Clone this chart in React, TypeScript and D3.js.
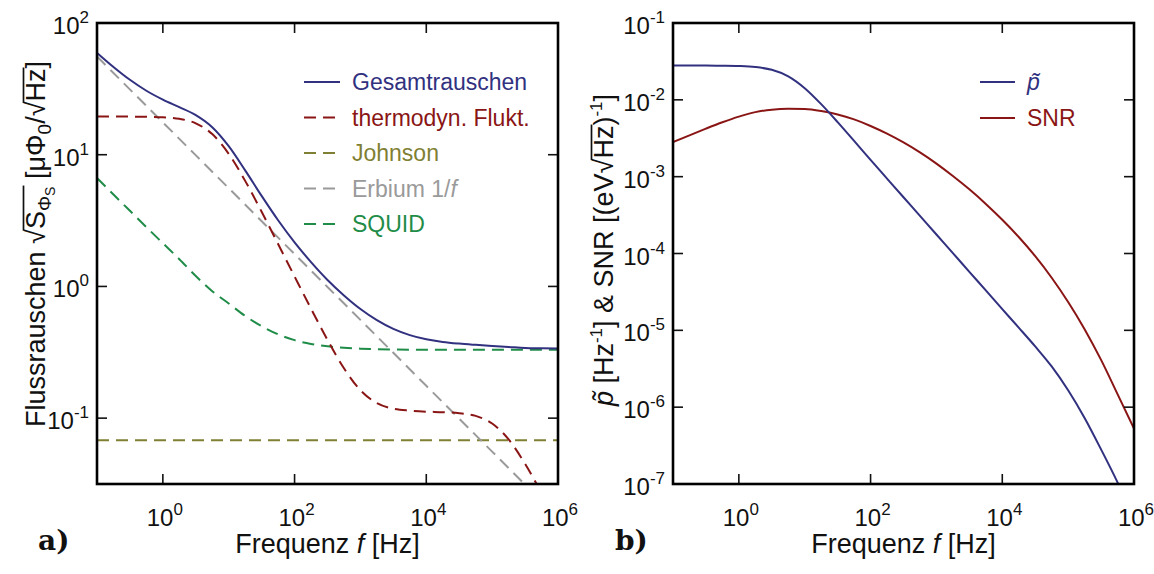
import React, { useLayoutEffect, useRef, useState } from 'react';
import * as d3 from 'd3';

// ---------- data ----------
const freq = [0.1, 0.1778, 0.3162, 0.5623, 1, 1.778, 3.162, 5.623, 10, 17.78, 31.62, 56.23, 100, 177.8, 316.2, 562.3,
  1e3, 1778, 3162, 5623, 1e4, 17780, 31620, 56230, 1e5, 177800, 316200, 562300, 1e6];
const gesamt = [59.4, 46.4, 37.05, 30.6, 26.2, 22.96, 19.98, 16.18, 11.61, 7.61, 4.87, 3.18, 2.16, 1.53, 1.12, 0.855,
  0.674, 0.555, 0.476, 0.427, 0.397, 0.379, 0.368, 0.36, 0.353, 0.347, 0.341, 0.339, 0.338];
const thermo = [19.5, 19.5, 19.47, 19.42, 19.24, 18.72, 17.31, 14.34, 10.16, 6.33, 3.69, 2.1, 1.19, 0.678, 0.393, 0.239,
  0.163, 0.13, 0.118, 0.114, 0.112, 0.111, 0.109, 0.104, 0.091, 0.069, 0.045, 0.027, 0.0155];
const squid = [6.65, 4.99, 3.75, 2.82, 2.13, 1.61, 1.2, 0.92, 0.742, 0.597, 0.499, 0.433, 0.391, 0.366, 0.351, 0.342,
  0.337, 0.334, 0.332, 0.331, 0.331, 0.33, 0.33, 0.33, 0.33, 0.33, 0.33, 0.33, 0.33];
const johnsonFreq = [0.1, 1e6];
const johnson = [0.068, 0.068];
const erbiumFreq = [0.1, 1, 10, 100, 1e3, 1e4, 1e5, 1e6];
const erbium = [55.7, 17.6, 5.57, 1.76, 0.557, 0.176, 0.0557, 0.0176];

const pTilde = [0.0279, 0.0279, 0.0279, 0.0278, 0.02754, 0.02673, 0.0246, 0.02023, 0.01419, 0.00879, 0.00513, 0.00292,
  0.00165, 9.44e-4, 5.4e-4, 3.09e-4, 1.766e-4, 1.012e-4, 5.78e-5, 3.31e-5, 1.89e-5, 1.084e-5, 6.17e-6, 3.39e-6, 1.66e-6,
  7.24e-7, 2.82e-7, 1.05e-7, 3.55e-8];
const snr = [2.81e-3, 3.45e-3, 4.22e-3, 5.11e-3, 6.05e-3, 6.92e-3, 7.45e-3, 7.64e-3, 7.59e-3, 7.16e-3, 6.46e-3, 5.56e-3,
  4.57e-3, 3.63e-3, 2.79e-3, 2.07e-3, 1.48e-3, 1.02e-3, 6.84e-4, 4.42e-4, 2.75e-4, 1.64e-4, 9.23e-5, 4.84e-5, 2.34e-5,
  1.035e-5, 4.12e-6, 1.48e-6, 5.25e-7];

const xTickVals = [1, 100, 1e4, 1e6];
const xTickExp = ['0', '2', '4', '6'];
const leftYTickVals = [0.1, 1, 10, 100];
const leftYTickExp = ['-1', '0', '1', '2'];
const rightYTickVals = [1e-1, 1e-2, 1e-3, 1e-4, 1e-5, 1e-6, 1e-7];
const rightYTickExp = ['-1', '-2', '-3', '-4', '-5', '-6', '-7'];

const C_NAVY = '#313180';
const C_RED = '#8a1515';
const C_OLIVE = '#7f8033';
const C_GRAY = '#9a9a9a';
const C_GREEN = '#1f8c48';

const FONT = '"Liberation Sans", Arial, Helvetica, sans-serif';
const TICK_FS = 24;
const EXP_FS = 17;
const LABEL_FS = 27;

// ---------- geometry ----------
const TOP = 23;
const BOT = 484;
const L = { x0: 97, x1: 558 };
const R = { x0: 673, x1: 1134 };

const xL = d3.scaleLog().domain([0.1, 1e6]).range([L.x0, L.x1]);
const yL = d3.scaleLog().domain([Math.pow(10, -1.5), 100]).range([BOT, TOP]);
const xR = d3.scaleLog().domain([0.1, 1e6]).range([R.x0, R.x1]);
const yR = d3.scaleLog().domain([1e-7, 1e-1]).range([BOT, TOP]);

function mkLine(xs: any, ys: any, fx: number[], vy: number[]) {
  const pts = fx.map((f, i) => [f, vy[i]] as [number, number]);
  return d3.line<[number, number]>().x(d => xs(d[0])).y(d => ys(d[1])).curve(d3.curveMonotoneX)(pts) || '';
}

function Pow({ x, y, exp, anchor }: { x: number; y: number; exp: string; anchor: 'start' | 'middle' | 'end' }) {
  return (
    <text x={x} y={y} textAnchor={anchor} fontFamily={FONT} fontSize={TICK_FS} fill="#111">
      10<tspan dy={-11} fontSize={EXP_FS}>{exp}</tspan>
    </text>
  );
}

function Frame({ x0, x1, xs, ys, yVals }: any) {
  const tl = 10;
  return (
    <g>
      {xTickVals.map((v, i) => (
        <g key={'xt' + i}>
          <line x1={xs(v)} x2={xs(v)} y1={BOT} y2={BOT - tl} stroke="#111" strokeWidth={1.6} />
          <line x1={xs(v)} x2={xs(v)} y1={TOP} y2={TOP + tl} stroke="#111" strokeWidth={1.6} />
        </g>
      ))}
      {yVals.map((v: number, i: number) => (
        <g key={'yt' + i}>
          <line x1={x0} x2={x0 + tl} y1={ys(v)} y2={ys(v)} stroke="#111" strokeWidth={1.6} />
          <line x1={x1} x2={x1 - tl} y1={ys(v)} y2={ys(v)} stroke="#111" strokeWidth={1.6} />
        </g>
      ))}
      <rect x={x0} y={TOP} width={x1 - x0} height={BOT - TOP} fill="none" stroke="#000" strokeWidth={2.6} />
    </g>
  );
}

type Seg = { x1: number; x2: number };

function useOverlines(pairs: [React.RefObject<any>, React.RefObject<any>][]) {
  const [segs, setSegs] = useState<Seg[]>([]);
  useLayoutEffect(() => {
    const out: Seg[] = [];
    for (const [a, b] of pairs) {
      const ea = a.current, eb = b.current;
      if (!ea || !eb) continue;
      try {
        const n = eb.getNumberOfChars();
        const x1 = ea.getEndPositionOfChar(ea.getNumberOfChars() - 1).x - 1.5;
        const x2 = eb.getEndPositionOfChar(n - 1).x + 1;
        out.push({ x1, x2 });
      } catch (e) { /* ignore */ }
    }
    setSegs(out);
  }, []);
  return segs;
}

function LeftYLabel() {
  const r1 = useRef<any>(null), r1e = useRef<any>(null);
  const r2 = useRef<any>(null), r2e = useRef<any>(null);
  const segs = useOverlines([[r1, r1e], [r2, r2e]]);
  const oy = -21.5;
  return (
    <g transform="translate(45, 244) rotate(-90)">
      <text x={0} y={0} textAnchor="middle" fontFamily={FONT} fontSize={LABEL_FS} fill="#111">
        Flussrauschen <tspan ref={r1}>√</tspan><tspan>S</tspan><tspan fontSize={19} dy={6}>Φ</tspan><tspan ref={r1e} fontSize={14} dy={4}>S</tspan><tspan dy={-10}> [μΦ</tspan><tspan fontSize={19} dy={6}>0</tspan><tspan dy={-6}>/</tspan><tspan ref={r2}>√</tspan><tspan ref={r2e}>Hz</tspan>]
      </text>
      {segs.map((s, i) => (
        <line key={i} x1={s.x1} x2={s.x2} y1={oy} y2={oy} stroke="#111" strokeWidth={1.7} />
      ))}
    </g>
  );
}

function RightYLabel() {
  const r1 = useRef<any>(null), r1e = useRef<any>(null);
  const segs = useOverlines([[r1, r1e]]);
  const oy = -21.5;
  return (
    <g transform="translate(613, 250) rotate(-90)">
      <text x={0} y={0} textAnchor="middle" fontFamily={FONT} fontSize={LABEL_FS} fill="#111">
        <tspan fontStyle="italic">p̃</tspan> [Hz<tspan fontSize={17} dy={-11}>-1</tspan><tspan dy={11}>] &amp; SNR [(eV</tspan><tspan ref={r1}>√</tspan><tspan ref={r1e}>Hz</tspan>)<tspan fontSize={17} dy={-11}>-1</tspan><tspan dy={11}>]</tspan>
      </text>
      {segs.map((s, i) => (
        <line key={i} x1={s.x1} x2={s.x2} y1={oy} y2={oy} stroke="#111" strokeWidth={1.7} />
      ))}
    </g>
  );
}

export default function App() {
  const dash = '12,7';
  const leftLegend = [
    { label: 'Gesamtrauschen', color: C_NAVY, dashed: false },
    { label: 'thermodyn. Flukt.', color: C_RED, dashed: true },
    { label: 'Johnson', color: C_OLIVE, dashed: true },
    { label: 'Erbium 1/', color: C_GRAY, dashed: true, italic: 'f' },
    { label: 'SQUID', color: C_GREEN, dashed: true },
  ];
  const legendY0 = 82;
  const legendDY = 35.5;

  return (
    <svg width={1154} height={574} style={{ position: 'absolute', left: 0, top: 0, background: '#fff' }}>
      <defs>
        <clipPath id="clipL"><rect x={L.x0} y={TOP} width={L.x1 - L.x0} height={BOT - TOP} /></clipPath>
        <clipPath id="clipR"><rect x={R.x0} y={TOP} width={R.x1 - R.x0} height={BOT - TOP} /></clipPath>
      </defs>
      <rect width={1154} height={574} fill="#fff" />

      {/* ---------- left panel ---------- */}
      <g clipPath="url(#clipL)" fill="none" strokeWidth={2}>
        <path d={mkLine(xL, yL, johnsonFreq, johnson)} stroke={C_OLIVE} strokeDasharray={dash} />
        <path d={mkLine(xL, yL, erbiumFreq, erbium)} stroke={C_GRAY} strokeDasharray={dash} />
        <path d={mkLine(xL, yL, freq, squid)} stroke={C_GREEN} strokeDasharray={dash} />
        <path d={mkLine(xL, yL, freq, thermo)} stroke={C_RED} strokeDasharray={dash} />
        <path d={mkLine(xL, yL, freq, gesamt)} stroke={C_NAVY} />
      </g>
      <Frame x0={L.x0} x1={L.x1} xs={xL} ys={yL} yVals={leftYTickVals} />
      {xTickVals.map((v, i) => (
        <Pow key={'lx' + i} x={xL(v) + 2} y={526} exp={xTickExp[i]} anchor="middle" />
      ))}
      {leftYTickVals.map((v, i) => (
        <Pow key={'ly' + i} x={89} y={yL(v) + 11} exp={leftYTickExp[i]} anchor="end" />
      ))}
      <text x={(L.x0 + L.x1) / 2} y={553} textAnchor="middle" fontFamily={FONT} fontSize={LABEL_FS} fill="#111">
        Frequenz <tspan fontStyle="italic">f</tspan> [Hz]
      </text>
      <LeftYLabel />
      {leftLegend.map((e, i) => {
        const y = legendY0 + i * legendDY;
        return (
          <g key={'ll' + i}>
            <line x1={304} x2={340} y1={y} y2={y} stroke={e.color} strokeWidth={2} strokeDasharray={e.dashed ? '12,7' : undefined} />
            <text x={352} y={y + 8} fontFamily={FONT} fontSize={23} fill={e.color}>
              {e.label}{e.italic ? <tspan fontStyle="italic">{e.italic}</tspan> : null}
            </text>
          </g>
        );
      })}
      <text x={38} y={550} fontFamily='"DejaVu Serif", "Liberation Serif", serif' fontWeight="bold" fontSize={28} fill="#111">a)</text>

      {/* ---------- right panel ---------- */}
      <g clipPath="url(#clipR)" fill="none" strokeWidth={2}>
        <path d={mkLine(xR, yR, freq, snr)} stroke={C_RED} />
        <path d={mkLine(xR, yR, freq, pTilde)} stroke={C_NAVY} />
      </g>
      <Frame x0={R.x0} x1={R.x1} xs={xR} ys={yR} yVals={rightYTickVals} />
      {xTickVals.map((v, i) => (
        <Pow key={'rx' + i} x={xR(v) + 2} y={526} exp={xTickExp[i]} anchor="middle" />
      ))}
      {rightYTickVals.map((v, i) => (
        <Pow key={'ry' + i} x={665} y={yR(v) + 11} exp={rightYTickExp[i]} anchor="end" />
      ))}
      <text x={(R.x0 + R.x1) / 2} y={553} textAnchor="middle" fontFamily={FONT} fontSize={LABEL_FS} fill="#111">
        Frequenz <tspan fontStyle="italic">f</tspan> [Hz]
      </text>
      <RightYLabel />
      {[{ label: 'p̃', color: C_NAVY, italic: true }, { label: 'SNR', color: C_RED, italic: false }].map((e, i) => {
        const y = 82 + i * 36;
        return (
          <g key={'rl' + i}>
            <line x1={980} x2={1015} y1={y} y2={y} stroke={e.color} strokeWidth={2} />
            <text x={1027} y={y + 8} fontFamily={FONT} fontSize={23} fill={e.color} fontStyle={e.italic ? 'italic' : 'normal'}>{e.label}</text>
          </g>
        );
      })}
      <text x={615} y={550} fontFamily='"DejaVu Serif", "Liberation Serif", serif' fontWeight="bold" fontSize={28} fill="#111">b)</text>
    </svg>
  );
}
